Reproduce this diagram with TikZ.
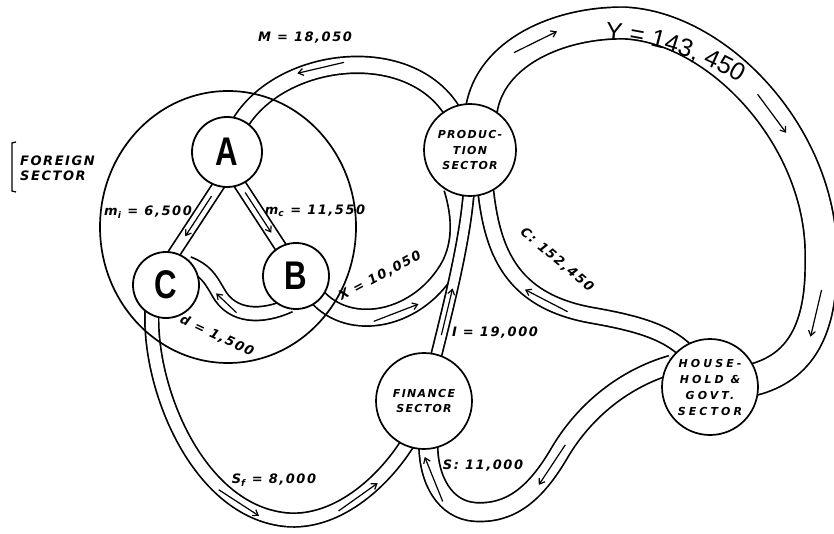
\documentclass[tikz,border=0pt]{standalone}
\usepackage{fontspec}
\usepackage{graphicx}
\setsansfont{Liberation Sans}
\newfontfamily\handfont[LetterSpace=12]{DejaVu Sans Bold Oblique}
\newfontfamily\plainfont{Liberation Sans}
\usetikzlibrary{arrows.meta,decorations.markings,decorations.text}
\pgfdeclarelayer{bands}
\pgfdeclarelayer{ring}
\pgfsetlayers{bands,ring,main}

\tikzset{
  band/.style={draw=black, line width=1.7pt, double=white, double distance=#1,
    shorten <=-6pt, shorten >=-6pt},
  flowtip/.style={draw=black, line width=1.2pt, shorten <=0pt, shorten >=0pt,
    -{Straight Barb[length=5pt,width=7pt]}},
  fwd/.style={postaction={decorate, decoration={markings,
      mark=at position #1 with {\draw[flowtip] (-24pt,0pt) -- (24pt,0pt);}}}},
  bwd/.style={postaction={decorate, decoration={markings,
      mark=at position #1 with {\draw[flowtip] (24pt,0pt) -- (-24pt,0pt);}}}},
  fwdshort/.style={postaction={decorate, decoration={markings,
      mark=at position #1 with {\draw[flowtip] (-14pt,0pt) -- (14pt,0pt);}}}},
  sector/.style={circle, draw, line width=1.7pt, fill=white, minimum size=#1,
    inner sep=0pt, align=center, font=\handfont\fontsize{11}{15.5}\selectfont},
  letternode/.style={circle, draw, line width=1.8pt, fill=white, minimum size=#1,
    inner sep=0pt, font=\sffamily\bfseries\fontsize{40}{40}\selectfont},
  flowlabel/.style={inner sep=1pt, font=\handfont\fontsize{13}{13}\selectfont},
}

\begin{document}
\begin{tikzpicture}[x=1pt,y=-1pt]
\useasboundingbox (0,0) rectangle (834,534);

% sectors
\node[letternode=70pt] (A) at (227,152) {\scalebox{0.78}[1]{A}};
\node[letternode=66pt] (B) at (296,276) {\scalebox{0.78}[1]{B}};
\node[letternode=66pt] (C) at (166,285) {\scalebox{0.78}[1]{C}};
\node[sector=92pt] (P) at (470,150) {PRODUC-\\TION\\SECTOR};
\node[sector=96pt] (F) at (424,401) {FINANCE\\SECTOR};
\node[sector=96pt, font=\handfont\addfontfeature{LetterSpace=28}\fontsize{11}{16}\selectfont]
  (H) at (710,387) {HOUSE-\\HOLD \&\\GOVT.\\SECTOR};

% flow channels
\begin{pgfonlayer}{bands}
  % imports
  \draw[band=15pt, bwd=0.4] (A.65) .. controls (280,55) and (410,40) .. (P.115);
  % income
  \draw[band=30pt, fwd=0.13, fwd=0.54, fwd=0.86] (P.75)
    .. controls (490,52) and (560,22) .. (625,23)
    .. controls (720,28) and (824,140) .. (821,260)
    .. controls (822,330) and (800,368) .. (H.10);
  % split of imports
  \draw[band=10pt, fwd=0.45] (A.255) -- (C.75);
  \draw[band=10pt, fwd=0.45] (A.292) -- (B.118);
  % d
  \draw[band=12pt, fwdshort=0.55] (B.250) .. controls (262,318) and (232,318) .. (218,292)
    .. controls (210,278) and (205,270) .. (C.35);
  % exports
  \draw[band=15pt, fwd=0.36] (B.315) .. controls (350,335) and (420,320) .. (450,265)
    .. controls (460,245) and (462,220) .. (P.250);
  % investment
  \draw[band=9pt, fwd=0.27] (F.75) .. controls (450,300) and (465,240) .. (P.268);
  % consumption
  \draw[band=14pt, bwd=0.47] (P.290) .. controls (492,250) and (510,300) .. (590,315)
    .. controls (630,322) and (665,330) .. (H.125);
  % savings
  \draw[band=17pt, fwd=0.46, fwd=0.91] (H.155)
    .. controls (625,378) and (585,410) .. (560,452)
    .. controls (535,495) and (510,514) .. (475,512)
    .. controls (445,510) and (428,480) .. (F.275);
  % foreign savings
  \draw[band=12pt, fwd=0.52, fwd=0.83] (C.245)
    .. controls (148,390) and (200,515) .. (290,520)
    .. controls (340,522) and (385,480) .. (F.248);
\end{pgfonlayer}

% foreign sector boundary
\begin{pgfonlayer}{ring}
  \draw[line width=1.7pt] (228,227) ellipse [x radius=128pt, y radius=136pt];
\end{pgfonlayer}

% bracketed caption
\draw[line width=1.3pt] (16,142) -- (12,143) -- (12,191) -- (16,192);
\node[flowlabel, align=left, anchor=west] (lF) at (19,168) {FOREIGN\\[2pt]SECTOR};

% flow values
\node[flowlabel] (lM) at (305,38) {M = 18,050};
\node[flowlabel] (lmi) at (148,212) {m\textsubscript{i} = 6,500};
\node[flowlabel] (lmc) at (315,211) {m\textsubscript{c} = 11,550};
\node[flowlabel, rotate=28] (lX) at (380,276) {X = 10,050};
\node[flowlabel, rotate=-25] (ld) at (217,336) {d = 1,500};
\node[flowlabel] (lSf) at (274,480) {S\textsubscript{f} = 8,000};
\node[flowlabel] (lS) at (483,466) {S: 11,000};
\node[flowlabel] (lI) at (495,333) {I = 19,000};
\node[flowlabel, rotate=-40] (lC) at (557,260) {C: 152,450};
\path[decorate, decoration={text along path, text align=center,
    text={|\plainfont\fontsize{25}{25}\selectfont|Y = 143, 450}}]
  (590,39) .. controls (645,39) and (703,58) .. (752,91);
\end{tikzpicture}
\end{document}
